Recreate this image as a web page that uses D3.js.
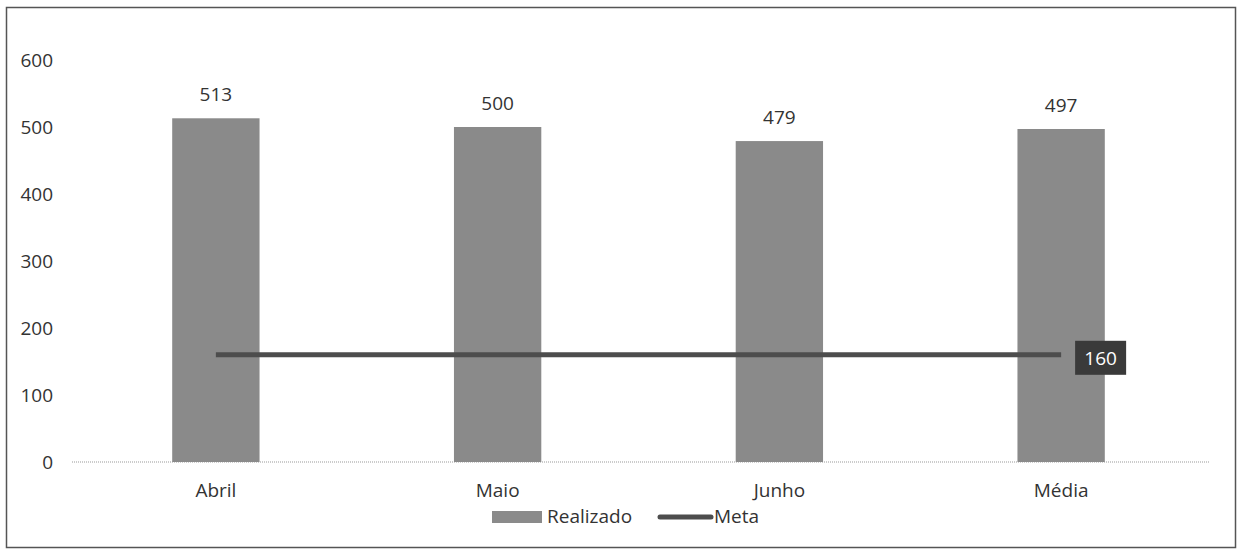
<!DOCTYPE html>
<html><head><meta charset="utf-8">
<script src="https://cdn.jsdelivr.net/npm/d3@7"></script>
<style>body{margin:0;background:#fff;} text{font-family:"Open Sans","Noto Sans",sans-serif;}</style>
</head><body><svg id="c" width="1240" height="553"></svg>
<script>
const categories = ["Abril","Maio","Junho","Média"];
const realizado = [513,500,479,497];
const meta = [160,160,160,160];
const yTicks = [0,100,200,300,400,500,600];
const FS = 19;

const svg = d3.select("#c");
svg.append("rect").attr("x",6.5).attr("y",7.5).attr("width",1229).attr("height",540)
  .attr("fill","#fff").attr("stroke","#555").attr("stroke-width",1.5);

const x = d3.scaleBand().domain(categories).range([75,1202]).paddingInner(0.69).paddingOuter(0.345);
const y = d3.scaleLinear().domain([0,600]).range([462,60]);

const yAxis = svg.append("g").attr("transform","translate(53,0)")
  .call(d3.axisLeft(y).tickValues(yTicks).tickSize(0).tickPadding(0));
yAxis.select(".domain").remove();
yAxis.selectAll("text").attr("font-size",FS).attr("fill","#333").attr("font-family","Open Sans, Noto Sans, sans-serif");

svg.append("line").attr("x1",72).attr("x2",1210).attr("y1",y(0)).attr("y2",y(0))
  .attr("stroke","#999").attr("stroke-dasharray","1,1").attr("stroke-width",1);

svg.selectAll("rect.bar").data(realizado).join("rect").attr("class","bar")
  .attr("x",(d,i)=>x(categories[i])).attr("width",x.bandwidth())
  .attr("y",d=>y(d)).attr("height",d=>y(0)-y(d)).attr("fill","#8a8a8a");

svg.selectAll("text.val").data(realizado).join("text").attr("class","val")
  .attr("x",(d,i)=>x(categories[i])+x.bandwidth()/2).attr("y",d=>y(d)-17)
  .attr("text-anchor","middle").attr("font-size",FS).attr("fill","#333").text(d=>d);

const xAxis = svg.append("g").attr("transform",`translate(0,${y(0)})`)
  .call(d3.axisBottom(x).tickSize(0).tickPadding(22));
xAxis.select(".domain").remove();
xAxis.selectAll("text").attr("font-size",FS).attr("fill","#333").attr("font-family","Open Sans, Noto Sans, sans-serif");

const line = d3.line().x((d,i)=>x(categories[i])+x.bandwidth()/2).y(d=>y(d));
svg.append("path").datum(meta).attr("d",line).attr("fill","none")
  .attr("stroke","#4d4d4d").attr("stroke-width",5);

const lx = x(categories[3])+x.bandwidth()/2, ly = y(meta[3]);
svg.append("rect").attr("x",lx+14).attr("y",ly-14).attr("width",51).attr("height",34).attr("fill","#3a3a3a");
svg.append("text").attr("x",lx+39.5).attr("y",ly+10).attr("text-anchor","middle")
  .attr("font-size",FS).attr("fill","#fff").text(meta[3]);

// legend
const lg = svg.append("g");
lg.append("rect").attr("x",492).attr("y",511).attr("width",50).attr("height",12).attr("fill","#8a8a8a");
lg.append("text").attr("x",547).attr("y",523).attr("font-size",FS).attr("fill","#333").text("Realizado");
lg.append("line").attr("x1",660).attr("x2",711).attr("y1",517).attr("y2",517).attr("stroke","#4d4d4d").attr("stroke-width",5).attr("stroke-linecap","round");
lg.append("text").attr("x",714).attr("y",523).attr("font-size",FS).attr("fill","#333").text("Meta");
</script></body></html>
